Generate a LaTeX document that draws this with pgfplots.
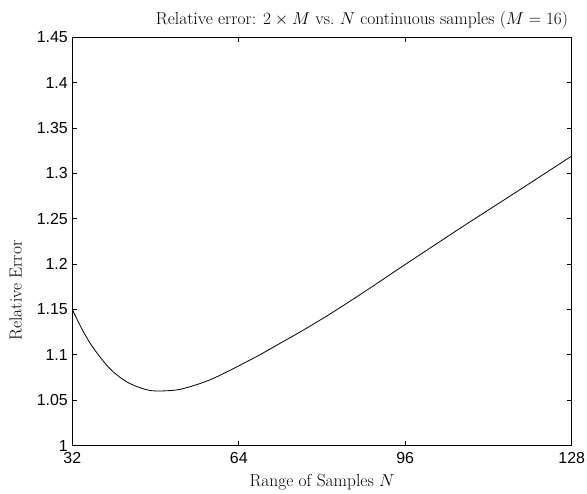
\documentclass[border=0pt]{standalone}
\usepackage{fontspec}
\usepackage{pgfplots}
\pgfplotsset{compat=1.18}
\newfontfamily\arial{Liberation Sans}
\begin{document}
\begin{tikzpicture}
\begin{axis}[
  at={(0,0)}, anchor=south west,
  scale only axis,
  width=499.4bp, height=408.4bp,
  xmin=32, xmax=128, ymin=1, ymax=1.45,
  xtick={32,64,96,128},
  ytick={1,1.05,1.1,1.15,1.2,1.25,1.3,1.35,1.4,1.45},
  tick align=inside,
  major tick length=5bp,
  axis line style={line width=0.9bp},
  every tick/.style={line width=0.9bp, black},
  ticklabel style={font=\fontsize{16}{18}\arial},
  xticklabel style={yshift=-3bp},
  yticklabel style={xshift=-1bp},
  /pgf/number format/assume math mode=true,
  yticklabel style={/pgf/number format/fixed, /pgf/number format/precision=2},
  xlabel={Range of Samples $N$},
  ylabel={Relative Error},
  label style={font=\fontsize{17.5}{19}\selectfont},
  title={Relative error: $2\times M$ vs.\ $N$ continuous samples ($M=16$)},
  title style={font=\fontsize{17.5}{19}\selectfont, yshift=-1bp, xshift=40bp},
  xlabel style={yshift=-4bp},
  ylabel style={at={(ticklabel cs:0.38,8bp)}},
]
\addplot[black, line width=0.8bp, smooth] coordinates {
(32,1.150) (34,1.127) (36,1.108) (39.2,1.085) (42.4,1.0705) (45.6,1.0628)
(48,1.0603) (52,1.0614) (55.2,1.066) (58.4,1.0724) (61.6,1.081) (64,1.088)
(68,1.100) (72,1.113) (76,1.126) (81.5,1.145) (88,1.169) (94.9,1.1955)
(100.7,1.2175) (108,1.245) (116,1.2745) (128,1.3192)
};
\end{axis}
\pgfresetboundingbox
\path[use as bounding box] (-72.3bp,-48.3bp) rectangle (514.7bp,445.7bp);
\end{tikzpicture}
\end{document}
